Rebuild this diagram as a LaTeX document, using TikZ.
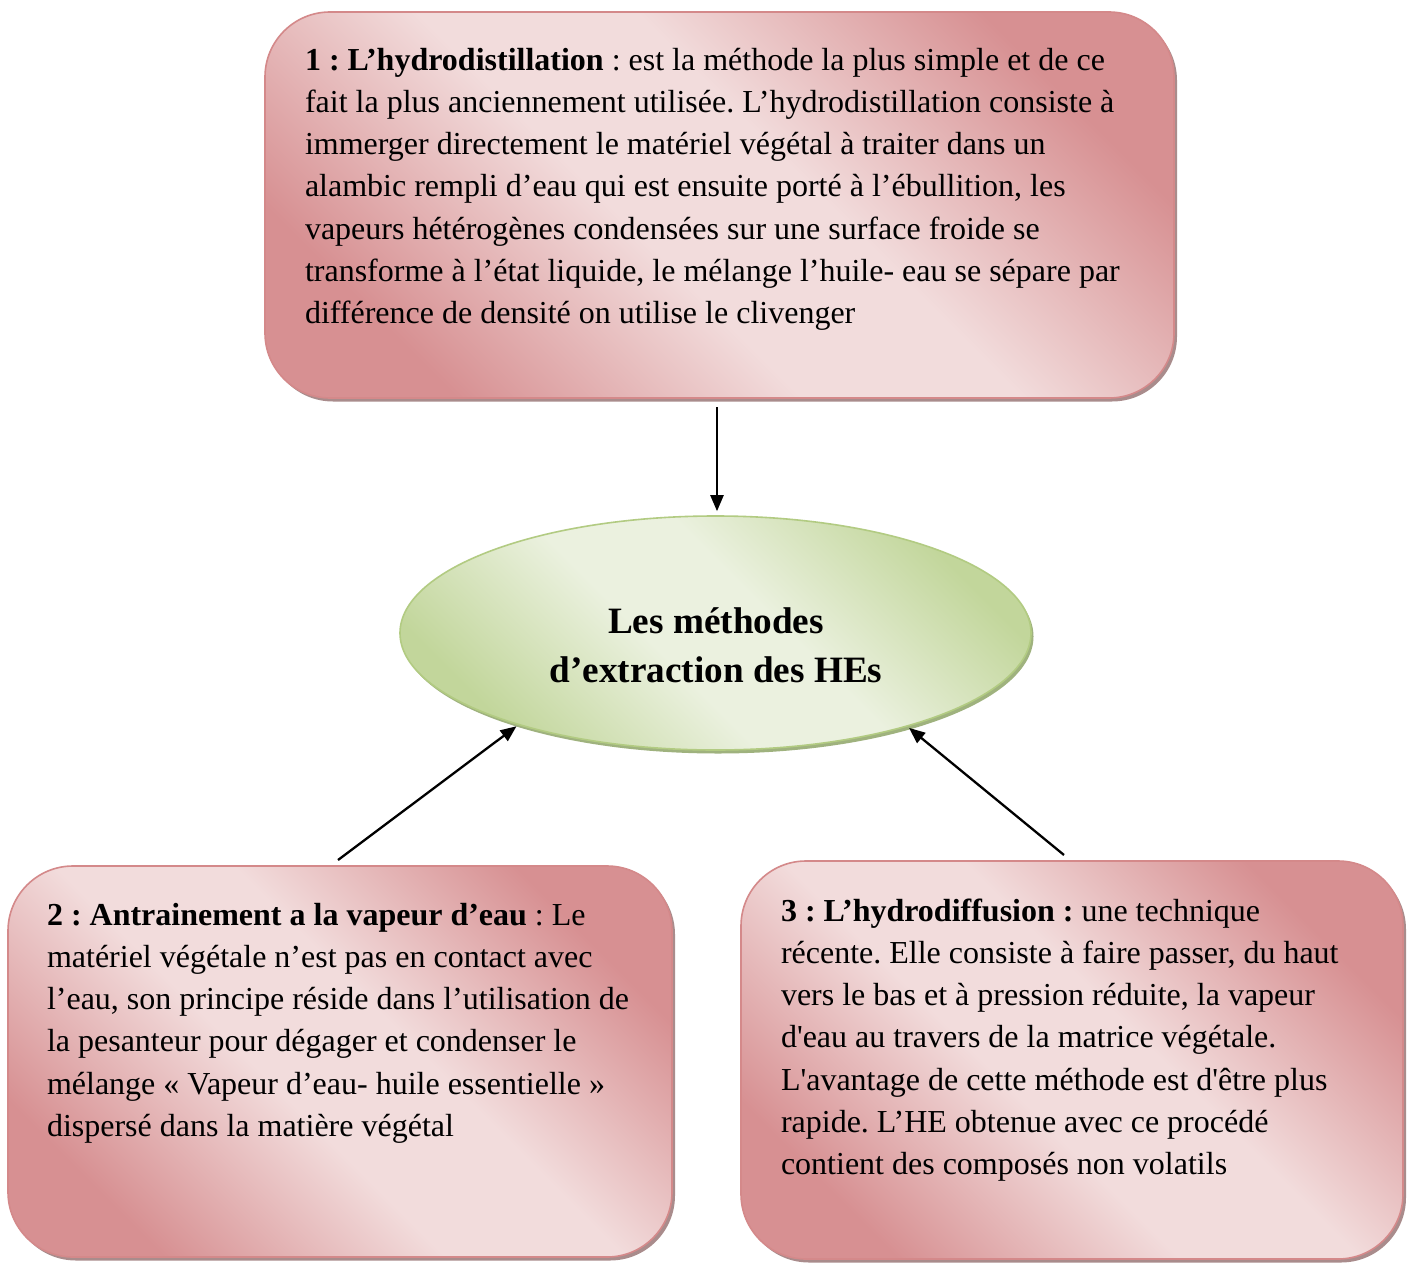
\documentclass[tikz,border=0pt]{standalone}
\usepackage{fontspec}
\newfontfamily\tnr{Liberation Serif}
\usetikzlibrary{shapes.geometric,arrows.meta,shadows}
\frenchspacing
\definecolor{pkdark}{HTML}{D79092}
\definecolor{pklight}{HTML}{F2DCDC}
\definecolor{pkline}{HTML}{D4898A}
\definecolor{pkshadow}{HTML}{A98C8C}
\definecolor{grdark}{HTML}{C2D69B}
\definecolor{grlight}{HTML}{EBF1DF}
\definecolor{grline}{HTML}{B2CB82}
\definecolor{grshadow}{HTML}{9FB27E}
\pgfdeclarehorizontalshading{pinkshade}{100bp}{color(0bp)=(pkdark); color(25bp)=(pkdark); color(44bp)=(pklight); color(56bp)=(pklight); color(75bp)=(pkdark); color(100bp)=(pkdark)}
\pgfdeclarehorizontalshading{greenshade}{100bp}{color(0bp)=(grdark); color(25bp)=(grdark); color(44bp)=(grlight); color(56bp)=(grlight); color(75bp)=(grdark); color(100bp)=(grdark)}
\tikzset{
  pinkbox/.style={rectangle, rounded corners=65pt, draw=pkline, line width=1.6pt,
    shading=pinkshade, shading angle=45, inner sep=0pt,
    drop shadow={shadow xshift=3pt, shadow yshift=-3.5pt, fill=pkshadow, opacity=1}},
  greenell/.style={ellipse, draw=grline, line width=1.6pt, shading=greenshade,
    shading angle=45, inner sep=0pt,
    drop shadow={shadow xshift=2.5pt, shadow yshift=-3.5pt, fill=grshadow, opacity=1}},
  bodytext/.style={inner sep=0pt, outer sep=0pt, align=left, anchor=north west,
    font=\tnr\fontsize{32}{42.3}\selectfont},
  titletext/.style={inner sep=0pt, outer sep=0pt, align=center, anchor=north,
    font=\tnr\bfseries\fontsize{37.2}{49}\selectfont},
  arr/.style={line width=2.3pt, -{Triangle[length=16pt,width=13pt]}}
}
\begin{document}
\begin{tikzpicture}[x=1pt,y=-1pt]
\useasboundingbox[fill=white] (0,0) rectangle (1411,1263);
% boxes
\node[pinkbox, minimum width=909pt, minimum height=386pt] (b1) at (719.5,205) {};
\node[pinkbox, minimum width=664pt, minimum height=391pt] (b2) at (340,1061.5) {};
\node[pinkbox, minimum width=662pt, minimum height=398pt] (b3) at (1072,1060) {};
\node[greenell, minimum width=631pt, minimum height=234pt] (ell) at (715.5,633) {};
% texts
\node[bodytext] (t1) at (305,40) {\rule{0pt}{30pt}\textbf{1 : L’hydrodistillation} : est la méthode la plus simple et de ce\\
fait la plus anciennement utilisée. L’hydrodistillation consiste à\\
immerger directement le matériel végétal à traiter dans un\\
alambic rempli d’eau qui est ensuite porté à l’ébullition, les\\
vapeurs hétérogènes condensées sur une surface froide se\\
transforme à l’état liquide, le mélange l’huile- eau se sépare par\\
différence de densité on utilise le clivenger};
\node[bodytext] (t2) at (47,895) {\rule{0pt}{30pt}\textbf{2 : Antrainement a la vapeur d’eau} : Le\\
matériel végétale n’est pas en contact avec\\
l’eau, son principe réside dans l’utilisation de\\
la pesanteur pour dégager et condenser le\\
mélange « Vapeur d’eau- huile essentielle »\\
dispersé dans la matière végétal};
\node[bodytext] (t3) at (781,891) {\rule{0pt}{30pt}\textbf{3 : L’hydrodiffusion :} une technique\\
récente. Elle consiste à faire passer, du haut\\
vers le bas et à pression réduite, la vapeur\\
d'eau au travers de la matrice végétale.\\
L'avantage de cette méthode est d'être plus\\
rapide. L’HE obtenue avec ce procédé\\
contient des composés non volatils};
\node[titletext] (et) at (716,600) {\rule{0pt}{33pt}Les méthodes\\d’extraction des HEs};
% connectors
\coordinate (s1) at (717,407);
\coordinate (s2) at (338,860);
\coordinate (s3) at (1064,855);
\draw[arr, shorten >=4pt] (s1) -- (s1 |- ell.north);
\draw[arr, shorten >=2pt] (s2) -- (ell.205.6);
\draw[arr, shorten >=2pt] (s3) -- (ell.-26.4);
\end{tikzpicture}
\end{document}
